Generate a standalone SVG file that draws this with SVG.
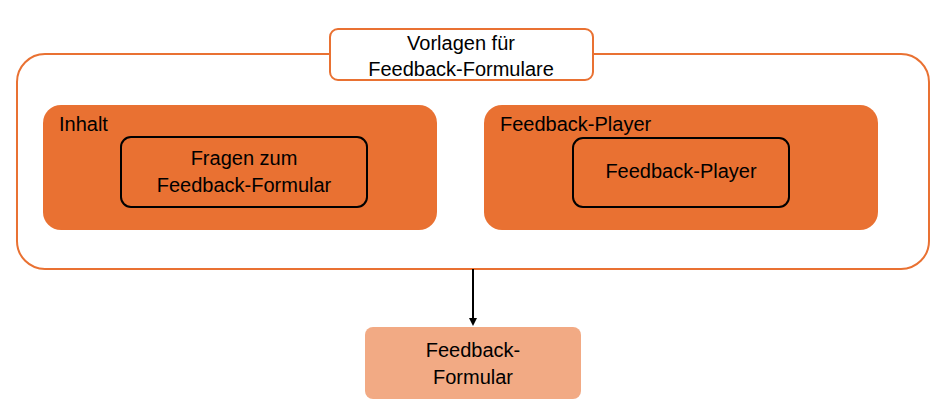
<svg xmlns="http://www.w3.org/2000/svg" width="949" height="406" viewBox="0 0 949 406">
<style>
text{font-family:"Liberation Sans",Arial,sans-serif;font-size:20px;fill:#000}
.c{text-anchor:middle}
.o{fill:#E97132;stroke:none}
.i{fill:none;stroke:#000;stroke-width:2}
</style>
<defs><marker id="a" markerWidth="8" markerHeight="8" refX="4" refY="4" orient="auto" markerUnits="userSpaceOnUse"><path d="M0,0L8,4L0,8z" fill="#000"/></marker></defs>
<g id="outer"><rect x="17" y="54" width="912" height="215" rx="28" fill="#fff" stroke="#E97132" stroke-width="2"/></g>
<g id="title"><rect x="330" y="29" width="263" height="51" rx="8" fill="#fff" stroke="#E97132" stroke-width="2"/><text class="c" x="461" y="50">Vorlagen für</text><text class="c" x="461" y="76">Feedback-Formulare</text></g>
<g id="inhalt"><rect class="o" x="43" y="105" width="394" height="125" rx="18"/><text x="59" y="131">Inhalt</text></g>
<g id="fragen"><rect class="i" x="121" y="137" width="246" height="70" rx="10"/><text class="c" x="244" y="165">Fragen zum</text><text class="c" x="244" y="192">Feedback-Formular</text></g>
<g id="playergrp"><rect class="o" x="484" y="105" width="394" height="125" rx="18"/><text x="500" y="131">Feedback-Player</text></g>
<g id="player"><rect class="i" x="573" y="138" width="216" height="69" rx="10"/><text class="c" x="681" y="178">Feedback-Player</text></g>
<g id="formular"><rect x="365" y="327" width="216" height="72" rx="8" fill="#F2AA84"/><text class="c" x="473" y="357">Feedback-</text><text class="c" x="473" y="384">Formular</text></g>
<g id="connectors"><line x1="473" y1="269" x2="473" y2="322" stroke="#000" stroke-width="2" marker-end="url(#a)"/></g>
</svg>
